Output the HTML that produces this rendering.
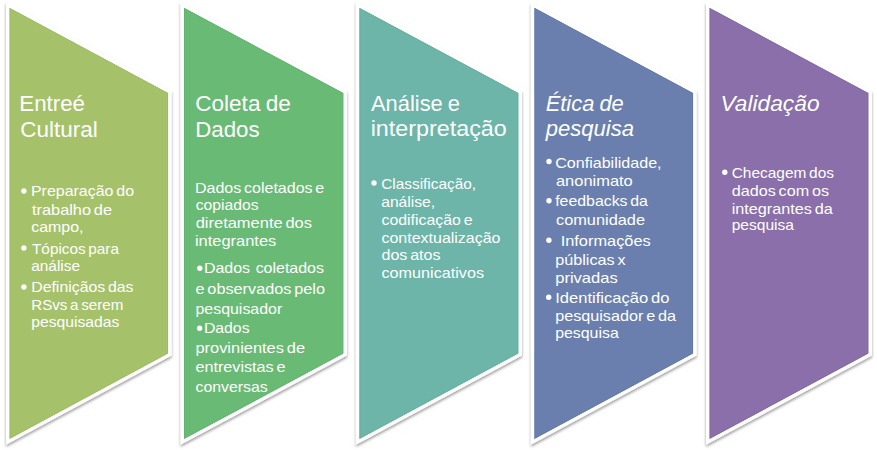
<!DOCTYPE html><html><head><meta charset="utf-8"><style>html,body{margin:0;padding:0;background:#fff;width:877px;height:450px;overflow:hidden}svg{display:block}text{font-family:"Liberation Sans",sans-serif;fill:#fff}</style></head><body>
<svg width="877" height="450" viewBox="0 0 877 450">
<defs><filter id="sh" x="-10%" y="-10%" width="130%" height="130%"><feGaussianBlur in="SourceAlpha" stdDeviation="1.7"/><feOffset dx="0" dy="1.7" result="b"/><feComponentTransfer><feFuncA type="linear" slope="0.4"/></feComponentTransfer><feMerge><feMergeNode/><feMergeNode in="SourceGraphic"/></feMerge></filter></defs>
<polygon points="9.50,7.7 168.10,93.0 168.10,353.5 9.50,439.0" fill="#A5C26A" stroke="#fff" stroke-width="7" stroke-linejoin="miter" stroke-miterlimit="10" filter="url(#sh)"/>
<clipPath id="c0"><polygon points="9.50,7.7 168.10,93.0 168.10,353.5 9.50,439.0"/></clipPath>
<polygon points="9.50,7.7 168.10,93.0 168.10,353.5 9.50,439.0" fill="#A5C26A" stroke="#9cbc64" stroke-width="1.8" clip-path="url(#c0)"/>
<polygon points="184.00,7.7 343.40,93.0 343.40,353.5 184.00,439.0" fill="#69BA74" stroke="#fff" stroke-width="7" stroke-linejoin="miter" stroke-miterlimit="10" filter="url(#sh)"/>
<clipPath id="c1"><polygon points="184.00,7.7 343.40,93.0 343.40,353.5 184.00,439.0"/></clipPath>
<polygon points="184.00,7.7 343.40,93.0 343.40,353.5 184.00,439.0" fill="#69BA74" stroke="#63b46e" stroke-width="1.8" clip-path="url(#c1)"/>
<polygon points="359.40,7.7 518.40,93.0 518.40,353.5 359.40,439.0" fill="#6CB5A8" stroke="#fff" stroke-width="7" stroke-linejoin="miter" stroke-miterlimit="10" filter="url(#sh)"/>
<clipPath id="c2"><polygon points="359.40,7.7 518.40,93.0 518.40,353.5 359.40,439.0"/></clipPath>
<polygon points="359.40,7.7 518.40,93.0 518.40,353.5 359.40,439.0" fill="#6CB5A8" stroke="#66af9f" stroke-width="1.8" clip-path="url(#c2)"/>
<polygon points="534.40,7.7 693.10,93.0 693.10,353.5 534.40,439.0" fill="#6A7FAD" stroke="#fff" stroke-width="7" stroke-linejoin="miter" stroke-miterlimit="10" filter="url(#sh)"/>
<clipPath id="c3"><polygon points="534.40,7.7 693.10,93.0 693.10,353.5 534.40,439.0"/></clipPath>
<polygon points="534.40,7.7 693.10,93.0 693.10,353.5 534.40,439.0" fill="#6A7FAD" stroke="#647ba4" stroke-width="1.8" clip-path="url(#c3)"/>
<polygon points="709.50,7.7 868.40,93.0 868.40,353.5 709.50,439.0" fill="#8A6FAA" stroke="#fff" stroke-width="7" stroke-linejoin="miter" stroke-miterlimit="10" filter="url(#sh)"/>
<clipPath id="c4"><polygon points="709.50,7.7 868.40,93.0 868.40,353.5 709.50,439.0"/></clipPath>
<polygon points="709.50,7.7 868.40,93.0 868.40,353.5 709.50,439.0" fill="#8A6FAA" stroke="#836ba1" stroke-width="1.8" clip-path="url(#c4)"/>
<text x="19.38" y="111.20" font-size="22.0" word-spacing="-1.0" textLength="65.64" lengthAdjust="spacingAndGlyphs" xml:space="preserve">Entreé</text>
<text x="20.18" y="136.60" font-size="22.0" word-spacing="-1.0" textLength="77.64" lengthAdjust="spacingAndGlyphs" xml:space="preserve">Cultural</text>
<text x="30.94" y="196.30" font-size="14.5" word-spacing="-1.5" textLength="103.08" lengthAdjust="spacingAndGlyphs" xml:space="preserve">Preparação do</text>
<text x="32.00" y="214.60" font-size="14.5" word-spacing="-1.5" textLength="80.04" lengthAdjust="spacingAndGlyphs" xml:space="preserve">trabalho de</text>
<text x="31.20" y="232.20" font-size="14.5" word-spacing="-1.5" textLength="52.36" lengthAdjust="spacingAndGlyphs" xml:space="preserve">campo,</text>
<text x="32.00" y="253.50" font-size="14.5" word-spacing="-1.5" textLength="87.00" lengthAdjust="spacingAndGlyphs" xml:space="preserve">Tópicos para</text>
<text x="31.20" y="270.60" font-size="14.5" word-spacing="-1.5" textLength="48.84" lengthAdjust="spacingAndGlyphs" xml:space="preserve">análise</text>
<text x="31.20" y="292.30" font-size="14.5" word-spacing="-1.5" textLength="102.34" lengthAdjust="spacingAndGlyphs" xml:space="preserve">Definiçãos das</text>
<text x="31.20" y="309.80" font-size="14.5" word-spacing="-1.5" textLength="92.12" lengthAdjust="spacingAndGlyphs" xml:space="preserve">RSvs a serem</text>
<text x="31.20" y="326.50" font-size="14.5" word-spacing="-1.5" textLength="88.10" lengthAdjust="spacingAndGlyphs" xml:space="preserve">pesquisadas</text>
<text x="195.16" y="111.30" font-size="22.0" word-spacing="-1.0" textLength="95.66" lengthAdjust="spacingAndGlyphs" xml:space="preserve">Coleta de</text>
<text x="195.16" y="136.70" font-size="22.0" word-spacing="-1.0" textLength="64.38" lengthAdjust="spacingAndGlyphs" xml:space="preserve">Dados</text>
<text x="194.92" y="192.80" font-size="14.5" word-spacing="-1.5" textLength="129.38" lengthAdjust="spacingAndGlyphs" xml:space="preserve">Dados coletados e</text>
<text x="195.72" y="209.90" font-size="14.5" word-spacing="-1.5" textLength="62.78" lengthAdjust="spacingAndGlyphs" xml:space="preserve">copiados</text>
<text x="195.72" y="228.10" font-size="14.5" word-spacing="-1.5" textLength="116.28" lengthAdjust="spacingAndGlyphs" xml:space="preserve">diretamente dos</text>
<text x="194.92" y="246.10" font-size="14.5" word-spacing="-1.5" textLength="81.36" lengthAdjust="spacingAndGlyphs" xml:space="preserve">integrantes</text>
<text x="203.92" y="273.40" font-size="14.5" word-spacing="-1.5" textLength="120.08" lengthAdjust="spacingAndGlyphs" xml:space="preserve">Dados  coletados</text>
<text x="195.46" y="293.80" font-size="14.5" word-spacing="-1.5" textLength="129.54" lengthAdjust="spacingAndGlyphs" xml:space="preserve">e observados pelo</text>
<text x="195.46" y="313.70" font-size="14.5" word-spacing="-1.5" textLength="86.80" lengthAdjust="spacingAndGlyphs" xml:space="preserve">pesquisador</text>
<text x="203.92" y="332.90" font-size="14.5" word-spacing="-1.5" textLength="45.62" lengthAdjust="spacingAndGlyphs" xml:space="preserve">Dados</text>
<text x="195.46" y="352.60" font-size="14.5" word-spacing="-1.5" textLength="109.56" lengthAdjust="spacingAndGlyphs" xml:space="preserve">provinientes de</text>
<text x="195.46" y="372.40" font-size="14.5" word-spacing="-1.5" textLength="90.06" lengthAdjust="spacingAndGlyphs" xml:space="preserve">entrevistas e</text>
<text x="195.46" y="392.20" font-size="14.5" word-spacing="-1.5" textLength="72.30" lengthAdjust="spacingAndGlyphs" xml:space="preserve">conversas</text>
<text x="371.00" y="111.30" font-size="22.0" word-spacing="-1.0" textLength="89.04" lengthAdjust="spacingAndGlyphs" xml:space="preserve">Análise e</text>
<text x="370.68" y="136.40" font-size="22.0" word-spacing="-1.0" textLength="136.10" lengthAdjust="spacingAndGlyphs" xml:space="preserve">interpretação</text>
<text x="381.20" y="188.60" font-size="14.5" word-spacing="-1.5" textLength="94.88" lengthAdjust="spacingAndGlyphs" xml:space="preserve">Classificação,</text>
<text x="381.20" y="206.90" font-size="14.5" word-spacing="-1.5" textLength="53.90" lengthAdjust="spacingAndGlyphs" xml:space="preserve">análise,</text>
<text x="381.48" y="225.10" font-size="14.5" word-spacing="-1.5" textLength="91.04" lengthAdjust="spacingAndGlyphs" xml:space="preserve">codificação e</text>
<text x="381.48" y="242.60" font-size="14.5" word-spacing="-1.5" textLength="119.04" lengthAdjust="spacingAndGlyphs" xml:space="preserve">contextualização</text>
<text x="381.48" y="260.40" font-size="14.5" word-spacing="-1.5" textLength="59.04" lengthAdjust="spacingAndGlyphs" xml:space="preserve">dos atos</text>
<text x="381.48" y="277.80" font-size="14.5" word-spacing="-1.5" textLength="102.52" lengthAdjust="spacingAndGlyphs" xml:space="preserve">comunicativos</text>
<text x="545.70" y="110.70" font-size="22.0" font-style="italic" word-spacing="-1.0" textLength="78.10" lengthAdjust="spacingAndGlyphs" xml:space="preserve">Ética de</text>
<text x="545.70" y="136.40" font-size="22.0" font-style="italic" word-spacing="-1.0" textLength="88.32" lengthAdjust="spacingAndGlyphs" xml:space="preserve">pesquisa</text>
<text x="555.18" y="168.10" font-size="14.5" word-spacing="-1.5" textLength="106.40" lengthAdjust="spacingAndGlyphs" xml:space="preserve">Confiabilidade,</text>
<text x="555.98" y="186.10" font-size="14.5" word-spacing="-1.5" textLength="76.80" lengthAdjust="spacingAndGlyphs" xml:space="preserve">anonimato</text>
<text x="555.18" y="206.40" font-size="14.5" word-spacing="-1.5" textLength="92.78" lengthAdjust="spacingAndGlyphs" xml:space="preserve">feedbacks da</text>
<text x="555.98" y="225.00" font-size="14.5" word-spacing="-1.5" textLength="89.06" lengthAdjust="spacingAndGlyphs" xml:space="preserve">comunidade</text>
<text x="560.68" y="245.60" font-size="14.5" word-spacing="-1.5" textLength="90.10" lengthAdjust="spacingAndGlyphs" xml:space="preserve">Informações</text>
<text x="555.18" y="264.60" font-size="14.5" word-spacing="-1.5" textLength="70.34" lengthAdjust="spacingAndGlyphs" xml:space="preserve">públicas x</text>
<text x="555.18" y="283.30" font-size="14.5" word-spacing="-1.5" textLength="62.58" lengthAdjust="spacingAndGlyphs" xml:space="preserve">privadas</text>
<text x="555.18" y="303.00" font-size="14.5" word-spacing="-1.5" textLength="114.34" lengthAdjust="spacingAndGlyphs" xml:space="preserve">Identificação do</text>
<text x="555.18" y="321.40" font-size="14.5" word-spacing="-1.5" textLength="120.82" lengthAdjust="spacingAndGlyphs" xml:space="preserve">pesquisador e da</text>
<text x="555.18" y="337.80" font-size="14.5" word-spacing="-1.5" textLength="63.58" lengthAdjust="spacingAndGlyphs" xml:space="preserve">pesquisa</text>
<text x="720.50" y="111.40" font-size="22.0" font-style="italic" word-spacing="-1.0" textLength="99.04" lengthAdjust="spacingAndGlyphs" xml:space="preserve">Validação</text>
<text x="731.72" y="178.00" font-size="14.5" word-spacing="-1.5" textLength="102.28" lengthAdjust="spacingAndGlyphs" xml:space="preserve">Checagem dos</text>
<text x="731.72" y="195.60" font-size="14.5" word-spacing="-1.5" textLength="97.28" lengthAdjust="spacingAndGlyphs" xml:space="preserve">dados com os</text>
<text x="731.72" y="213.90" font-size="14.5" word-spacing="-1.5" textLength="101.04" lengthAdjust="spacingAndGlyphs" xml:space="preserve">integrantes da</text>
<text x="731.72" y="230.40" font-size="14.5" word-spacing="-1.5" textLength="62.28" lengthAdjust="spacingAndGlyphs" xml:space="preserve">pesquisa</text>
<circle cx="23.9" cy="191" r="2.7" fill="#fff"/>
<circle cx="23.9" cy="248" r="2.7" fill="#fff"/>
<circle cx="23.9" cy="287" r="2.7" fill="#fff"/>
<circle cx="199.8" cy="268.3" r="2.7" fill="#fff"/>
<circle cx="199.6" cy="328.3" r="2.7" fill="#fff"/>
<circle cx="374" cy="183" r="2.7" fill="#fff"/>
<circle cx="549.0" cy="161.5" r="2.7" fill="#fff"/>
<circle cx="549.0" cy="200.8" r="2.7" fill="#fff"/>
<circle cx="548.9" cy="240.3" r="2.7" fill="#fff"/>
<circle cx="548.7" cy="297.2" r="2.7" fill="#fff"/>
<circle cx="724.8" cy="172.2" r="2.7" fill="#fff"/>
</svg></body></html>
